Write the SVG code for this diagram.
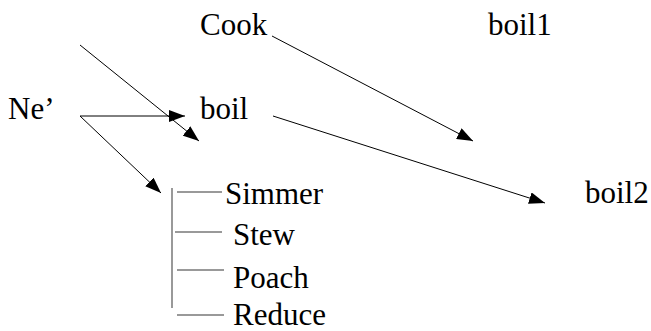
<svg xmlns="http://www.w3.org/2000/svg" width="651" height="331" viewBox="0 0 651 331">
<style>
text{font-family:"Liberation Serif","Times New Roman","DejaVu Serif",serif;font-size:31px;fill:#000}
.c{stroke:#000;stroke-width:1;fill:none}
.b{stroke:#777;stroke-width:1.5;fill:none}
</style>
<defs>
<marker id="ah" viewBox="0 0 16 12" markerWidth="16" markerHeight="12" markerUnits="userSpaceOnUse" refX="16" refY="6" orient="auto">
<path d="M0,0 L16,6 L0,12 Z" fill="#000"/>
</marker>
</defs>
<rect width="651" height="331" fill="#fff"/>
<g id="connectors">
<line class="c" x1="80" y1="45" x2="199" y2="141" marker-end="url(#ah)"/>
<line class="c" x1="80" y1="116" x2="185" y2="116" marker-end="url(#ah)"/>
<line class="c" x1="80" y1="116" x2="161" y2="193" marker-end="url(#ah)"/>
<line class="c" x1="272" y1="36" x2="473" y2="141" marker-end="url(#ah)"/>
<line class="c" x1="273" y1="116" x2="545" y2="203" marker-end="url(#ah)"/>
<line class="b" x1="172" y1="188" x2="172" y2="308"/>
<line class="b" x1="177" y1="192" x2="222" y2="192"/>
<line class="b" x1="175" y1="232" x2="222" y2="232"/>
<line class="b" x1="177" y1="270" x2="224" y2="270"/>
<line class="b" x1="177" y1="315" x2="224" y2="315"/>
</g>
<g id="cook"><text x="200" y="35">Cook</text></g>
<g id="boil1"><text x="488" y="35">boil1</text></g>
<g id="ne"><text x="8" y="119">Ne’</text></g>
<g id="boil"><text x="200" y="119">boil</text></g>
<g id="boil2"><text x="585" y="203">boil2</text></g>
<g id="simmer"><text x="225" y="204">Simmer</text></g>
<g id="stew"><text x="233" y="245">Stew</text></g>
<g id="poach"><text x="233" y="288">Poach</text></g>
<g id="reduce"><text x="233" y="325">Reduce</text></g>
</svg>
